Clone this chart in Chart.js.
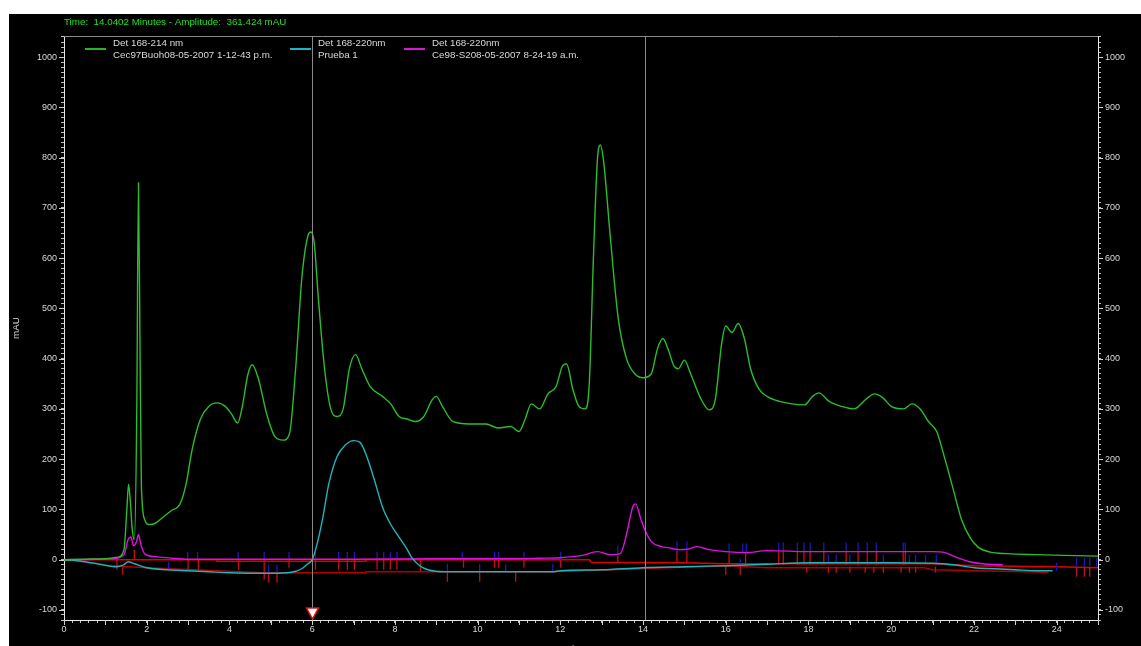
<!DOCTYPE html>
<html>
<head>
<meta charset="utf-8">
<title>Chromatogram</title>
<script src="https://cdn.jsdelivr.net/npm/chart.js@4.4.0/dist/chart.umd.min.js"></script>
<style>
  html, body { margin: 0; padding: 0; background: #fff; overflow: hidden; }
  #wrap { position: absolute; left: 9px; top: 14px; width: 1132px; height: 632px; background: #000; }
</style>
</head>
<body>
<div id="wrap"><canvas id="chroma" width="1132" height="632"></canvas></div>
<script>
// ---- data (time in minutes, amplitude in mAU) ----
const det214 = [
  [0,0],[0.5,1],[1.0,2],[1.3,5],[1.45,20],[1.52,100],[1.56,150],[1.6,120],[1.65,60],[1.7,40],
  [1.76,300],[1.8,750],[1.84,400],[1.87,150],[1.95,80],[2.05,70],[2.2,72],[2.4,85],[2.6,98],
  [2.8,110],[2.95,150],[3.1,220],[3.3,280],[3.5,305],[3.7,312],[3.9,305],[4.05,290],[4.2,272],
  [4.3,300],[4.45,370],[4.55,388],[4.7,360],[4.9,290],[5.1,245],[5.3,238],[5.45,250],[5.6,380],
  [5.75,560],[5.9,645],[5.97,652],[6.05,630],[6.15,520],[6.3,380],[6.45,300],[6.6,285],[6.75,300],
  [6.9,380],[7.05,408],[7.2,380],[7.4,345],[7.7,325],[7.9,310],[8.1,285],[8.3,280],[8.5,275],
  [8.7,285],[8.9,318],[9.0,325],[9.15,305],[9.4,275],[9.8,270],[10.2,270],[10.5,262],[10.8,265],
  [11.0,255],[11.15,280],[11.3,310],[11.5,300],[11.7,330],[11.9,345],[12.05,385],[12.15,390],
  [12.3,340],[12.45,305],[12.6,300],[12.7,350],[12.8,600],[12.9,800],[12.97,825],[13.05,790],
  [13.2,650],[13.4,480],[13.6,400],[13.8,370],[14.0,362],[14.2,370],[14.35,420],[14.48,440],
  [14.6,420],[14.75,385],[14.85,380],[15.0,397],[15.15,370],[15.4,320],[15.6,298],[15.75,320],
  [15.9,430],[16.0,465],[16.15,452],[16.3,470],[16.45,440],[16.6,380],[16.8,340],[17.0,325],
  [17.3,315],[17.6,310],[17.9,308],[18.1,325],[18.25,332],[18.5,315],[18.8,305],[19.1,300],
  [19.4,320],[19.6,330],[19.8,322],[20.0,305],[20.3,300],[20.5,310],[20.7,300],[20.9,275],
  [21.1,255],[21.3,200],[21.5,140],[21.7,80],[21.9,45],[22.1,25],[22.4,15],[22.8,12],[23.5,10],
  [24.5,8],[25,7]
];
const prueba1 = [
  [0,0],[0.3,-2],[0.8,-8],[1.28,-14],[1.45,-10],[1.55,-4],[1.7,-8],[2.0,-16],[2.5,-20],[3.0,-22],
  [3.5,-24],[4.0,-26],[5.0,-27],[5.5,-25],[5.75,-18],[5.9,-8],[6.0,0],[6.1,25],[6.25,80],[6.4,150],
  [6.6,205],[6.8,228],[7.0,237],[7.15,234],[7.3,210],[7.5,160],[7.7,105],[7.9,70],[8.1,45],[8.3,20],
  [8.4,5],[8.6,-12],[8.8,-20],[9.2,-24],[10,-24],[11,-24],[11.8,-24],[12,-22],[13,-20],[14,-16],
  [15,-14],[16,-12],[17,-9],[18,-6],[20,-6],[21,-7],[21.5,-10],[22,-16],[22.5,-18],[23,-20],
  [23.5,-22],[23.9,-22]
];
const ce98 = [
  [0,0],[1.2,2],[1.45,10],[1.55,40],[1.62,45],[1.68,28],[1.75,35],[1.8,50],[1.86,30],[1.95,12],
  [2.2,6],[2.6,3],[3,1],[7,1],[9,2],[10.8,2],[11.5,3],[12,4],[12.5,8],[12.9,16],[13.2,10],
  [13.45,12],[13.6,50],[13.75,105],[13.82,111],[13.95,80],[14.05,58],[14.2,36],[14.45,26],
  [14.6,24],[14.9,20],[15.1,21],[15.3,26],[15.6,20],[16,16],[16.5,14],[17,18],[18,16],[20,16],
  [21,16],[21.3,14],[21.6,4],[21.9,-4],[22.2,-8],[22.7,-10]
];
// integration baselines
const baseUpper = [
  [0,0],[3.7,0],[3.7,-3],[7.3,-3],[7.3,0],[12.7,0],[12.75,-5],[15,-6],[16,-8],[17,-8],[21,-8],
  [22,-12],[24,-14],[25,-16]
];
const baseLower = [
  [1.2,-12],[2.0,-16],[4.8,-26],[7.3,-26],[7.3,-24],[11.8,-24],[16,-12],[17,-16],[20.8,-16],
  [21,-20],[23.8,-25]
];
// peak start/end markers: [time, from, to]
const blueTicks = [
  [2.53,-18,-4],[2.99,0,16],[3.23,0,16],[4.21,0,16],[4.84,0,16],[4.95,-26,-10],[5.15,-26,-10],
  [5.44,0,16],[6.08,0,16],[6.64,0,16],[6.85,0,16],[7.02,0,16],[7.57,0,16],[7.73,0,16],[7.89,0,16],
  [8.05,0,16],[9.27,-24,-8],[9.63,0,16],[10.05,-24,-8],[10.41,0,16],[10.51,0,16],[10.68,-24,-8],
  [11.12,0,16],[11.82,-24,-8],[12.01,0,16],[13.39,10,28],[14.82,18,36],[15.06,18,36],[16.08,14,32],
  [16.35,-12,2],[16.41,14,32],[16.5,14,32],[17.28,16,34],[17.39,16,34],[17.73,16,34],[17.89,16,34],
  [18.04,16,34],[18.37,16,34],[18.48,-8,10],[18.67,-8,10],[18.91,16,34],[19.0,-8,10],[19.2,16,34],
  [19.42,16,34],[19.64,16,34],[19.81,-8,10],[20.29,16,34],[20.34,16,34],[20.44,-8,10],[20.59,-8,10],
  [20.83,-8,10],[21.09,-8,10],[24.0,-22,-6],[24.48,-14,4],[24.67,-14,4],[24.8,-14,4],[24.97,-14,4]
];
const redTicks = [
  [1.28,0,-20],[1.42,-14,-30],[1.7,20,0],[3.0,0,-20],[3.25,0,-20],[4.22,0,-20],[4.84,0,-40],
  [4.95,-26,-46],[5.15,-26,-46],[5.44,0,-16],[6.08,0,-20],[6.64,0,-20],[6.85,0,-20],[7.02,0,-20],
  [7.57,0,-20],[7.73,0,-20],[7.89,0,-20],[8.05,0,-20],[8.62,0,-24],[9.27,-24,-44],[9.66,0,-16],
  [10.05,-24,-44],[10.41,0,-16],[10.51,0,-16],[10.92,-24,-44],[11.12,0,-16],[12.01,0,-16],
  [13.39,10,-6],[14.82,18,-6],[15.06,18,-6],[16.0,-12,-30],[16.08,14,-8],[16.35,-12,-30],
  [16.48,14,-12],[17.28,16,-10],[17.39,16,-10],[17.73,16,-10],[17.89,16,-10],[17.96,-14,-26],
  [18.04,16,-10],[18.37,16,-10],[18.48,-14,-26],[18.67,-14,-26],[18.91,16,-10],[19.0,-14,-26],
  [19.2,16,-10],[19.37,-14,-26],[19.42,16,-10],[19.58,-14,-26],[19.64,16,-10],[19.81,-14,-26],
  [20.24,-14,-26],[20.29,16,-10],[20.34,16,-10],[20.44,-14,-26],[20.59,-14,-26],[21.07,-14,-26],
  [24.48,-16,-34],[24.67,-16,-34],[24.8,-16,-34]
];
const cursorTimes = [6, 14.0402];
const headerText = 'Time:  14.0402 Minutes - Amplitude:  361.424 mAU';
const legendItems = [
  { color: '#28b428', lines: ['Det 168-214 nm', 'Cec97Buoh08-05-2007 1-12-43 p.m.'], x: 76 },
  { color: '#20b4c0', lines: ['Det 168-220nm', 'Prueba 1'], x: 281 },
  { color: '#d818d8', lines: ['Det 168-220nm', 'Ce98-S208-05-2007 8-24-19 a.m.'], x: 395 }
];
const xLabelEvery = 2;
const yLabelEvery = 100;

const pts = list => list.map(([x, y]) => ({ x, y }));
function segs(list) {
  const out = [];
  list.forEach(([t, a, b]) => out.push({ x: t, y: a }, { x: t, y: b }, { x: t, y: null }));
  return out;
}
const isMult = (v, m) => Math.abs(v / m - Math.round(v / m)) < 1e-6;
const FONT = 'Liberation Sans, Arial, sans-serif';

const overlay = {
  id: 'overlay',
  afterDatasetsDraw(chart) {
    const { ctx, chartArea: a, scales } = chart;
    const x = scales.x;
    ctx.save();
    // top frame line
    ctx.strokeStyle = '#8a8a8a';
    ctx.lineWidth = 1;
    ctx.beginPath();
    ctx.moveTo(a.left, a.top + 0.5);
    ctx.lineTo(a.right, a.top + 0.5);
    ctx.stroke();
    // cursors
    cursorTimes.forEach(t => {
      const px = Math.round(x.getPixelForValue(t)) + 0.5;
      ctx.beginPath();
      ctx.moveTo(px, a.top);
      ctx.lineTo(px, a.bottom);
      ctx.stroke();
    });
    // cursor marker
    const cx = Math.round(x.getPixelForValue(cursorTimes[0])) + 0.5;
    ctx.beginPath();
    ctx.moveTo(cx - 6, a.bottom - 12);
    ctx.lineTo(cx + 6, a.bottom - 12);
    ctx.lineTo(cx, a.bottom - 1);
    ctx.closePath();
    ctx.fillStyle = '#ffffff';
    ctx.fill();
    ctx.strokeStyle = '#e01010';
    ctx.lineWidth = 1.5;
    ctx.stroke();
    // longer major ticks
    ctx.strokeStyle = '#d0d0d0';
    ctx.lineWidth = 1;
    ctx.beginPath();
    for (let t = 0; t <= 25; t++) {
      const px = Math.round(x.getPixelForValue(t)) + 0.5;
      ctx.moveTo(px, a.bottom);
      ctx.lineTo(px, a.bottom + 5);
    }
    for (let v = -100; v <= 1000; v += yLabelEvery) {
      const py = Math.round(scales.y.getPixelForValue(v)) + 0.5;
      ctx.moveTo(a.left - 5, py);
      ctx.lineTo(a.left, py);
      ctx.moveTo(a.right, py);
      ctx.lineTo(a.right + 5, py);
    }
    ctx.stroke();
    // header
    ctx.font = '9.8px ' + FONT;
    ctx.textBaseline = 'middle';
    ctx.textAlign = 'left';
    ctx.fillStyle = '#22e022';
    ctx.fillText(headerText, 55, 8);
    // legend
    legendItems.forEach(it => {
      ctx.strokeStyle = it.color;
      ctx.lineWidth = 2;
      ctx.beginPath();
      ctx.moveTo(it.x, 35);
      ctx.lineTo(it.x + 21, 35);
      ctx.stroke();
      ctx.fillStyle = '#d8d8d8';
      ctx.fillText(it.lines[0], it.x + 28, 29.5);
      ctx.fillText(it.lines[1], it.x + 28, 41);
    });
    // axis titles
    ctx.fillStyle = '#d8d8d8';
    ctx.textAlign = 'center';
    ctx.textBaseline = 'top';
    ctx.fillText('Minutes', (a.left + a.right) / 2, 630);
    ctx.translate(7, 314);
    ctx.rotate(-Math.PI / 2);
    ctx.textBaseline = 'middle';
    ctx.fillText('mAU', 0, 0);
    ctx.restore();
  }
};

const tickFont = { size: 9, family: FONT };
const yAxis = (pos, w) => ({
  position: pos,
  min: -120,
  max: 1042,
  afterFit(s) { s.width = w; },
  ticks: {
    stepSize: 10,
    autoSkip: false,
    color: '#d8d8d8',
    font: tickFont,
    padding: 4,
    callback: v => isMult(v, yLabelEvery) ? String(Math.round(v)) : ''
  },
  grid: { drawOnChartArea: false, tickLength: 3, tickColor: '#c0c0c0' },
  border: { color: '#e8e8e8' }
});

new Chart(document.getElementById('chroma').getContext('2d'), {
  type: 'line',
  data: {
    datasets: [
      { data: pts(det214), borderColor: '#2cbc2c', borderWidth: 1.4, cubicInterpolationMode: 'monotone' },
      { data: pts(prueba1), borderColor: '#20b4bc', borderWidth: 1.4, cubicInterpolationMode: 'monotone' },
      { data: pts(ce98), borderColor: '#e010e0', borderWidth: 1.4, cubicInterpolationMode: 'monotone' },
      { data: segs(blueTicks), borderColor: '#1a1ab4', borderWidth: 1.3, spanGaps: false },
      { data: segs(redTicks), borderColor: '#c41010', borderWidth: 1.3, spanGaps: false },
      { data: pts(baseUpper), borderColor: '#e00000', borderWidth: 1.4 },
      { data: pts(baseLower), borderColor: '#b00000', borderWidth: 1.4 }
    ]
  },
  options: {
    responsive: false,
    animation: false,
    layout: { padding: { top: 22, left: 0, right: 0, bottom: 0 } },
    plugins: { legend: { display: false }, tooltip: { enabled: false } },
    elements: { point: { radius: 0 }, line: { borderWidth: 1, tension: 0 } },
    scales: {
      x: {
        type: 'linear',
        min: 0,
        max: 25,
        afterFit(s) { s.height = 26; },
        ticks: {
          stepSize: 0.2,
          autoSkip: false,
          maxRotation: 0,
          color: '#d8d8d8',
          font: tickFont,
          padding: 1,
          callback: v => isMult(v, xLabelEvery) ? String(Math.round(v)) : ''
        },
        grid: { drawOnChartArea: false, tickLength: 3, tickColor: '#c0c0c0' },
        border: { color: '#e8e8e8' }
      },
      y: yAxis('left', 55),
      y2: yAxis('right', 43)
    }
  },
  plugins: [overlay]
});
</script>
</body>
</html>
